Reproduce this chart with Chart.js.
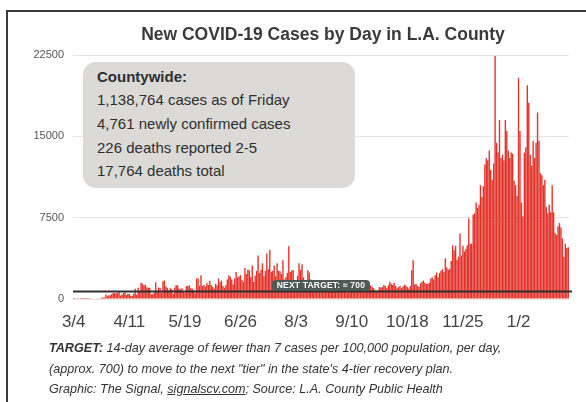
<!DOCTYPE html>
<html>
<head>
<meta charset="utf-8">
<script src="https://cdn.jsdelivr.net/npm/chart.js@4.4.1/dist/chart.umd.min.js"></script>
<style>
body{margin:0;background:#fff;font-family:"Liberation Sans",Arial,sans-serif;}
#wrap{position:relative;width:586px;height:402px;overflow:hidden;background:#fff;}
#frame{position:absolute;left:6px;top:10px;width:640px;height:460px;border-left:2px solid #3a3a3a;border-top:2px solid #3a3a3a;}
canvas{position:absolute;left:0;top:0;}
#title{position:absolute;left:0;width:646px;top:24px;text-align:center;font-weight:bold;font-size:17.5px;color:#3a3a3a;}
#box{position:absolute;left:83px;top:62px;width:258px;height:123.5px;padding:2.5px 0 0 14px;background:#dcdad7;border-radius:13px;color:#2e2e2e;font-size:15px;line-height:23.7px;}
#box b{font-weight:bold;}
#target{position:absolute;background:#4c5955;color:#fff;font-weight:bold;font-size:8.5px;height:11px;line-height:11px;padding:0 5px;border-radius:4px;white-space:nowrap;letter-spacing:0.2px;}
#caption{position:absolute;left:49px;top:338px;font-style:italic;font-size:12.6px;line-height:20.5px;color:#333;white-space:nowrap;}
#caption u{text-decoration:underline;}
</style>
</head>
<body>
<div id="wrap">
  <div id="frame"></div>
  <canvas id="chart" width="586" height="402"></canvas>
  <div id="title">New COVID-19 Cases by Day in L.A. County</div>
  <div id="box">
    <b>Countywide:</b><br>
    1,138,764 cases as of Friday<br>
    4,761 newly confirmed cases<br>
    226 deaths reported 2-5<br>
    17,764 deaths total
  </div>
  <div id="target">NEXT TARGET: ≈ 700</div>
  <div id="caption">
    <b>TARGET:</b> 14-day average of fewer than 7 cases per 100,000 population, per day,<br>
    (approx. 700) to move to the next "tier" in the state's 4-tier recovery plan.<br>
    Graphic: The Signal, <u>signalscv.com</u>; Source: L.A. County Public Health
  </div>
</div>
<script>
// daily new cases, one array per month (3/4/2020 .. 2/5/2021)
const mar=[4,1,0,1,0,3,2,7,5,8,13,16,25,50,46,40,61,62,59,128,128,138,421,257,339,342,464,548];
const apr=[534,521,534,711,323,420,550,620,361,475,475,300,297,494,950,399,1035,711,1491,1400,1259,1318,1081,1035,1035,440,433,597,1541,733];
const may=[1065,1012,563,1638,1708,1180,1012,815,1000,890,477,1050,1300,1250,960,900,1000,650,580,1180,1200,1270,1000,970,800,540,1900,1900,1230,2200,1200];
const jun=[1300,1150,1450,1300,1690,1300,1100,950,1400,1250,1900,1550,1700,1200,1050,1300,1800,2200,2050,1800,1350,1900,2500,2000,2100,2200,1750,1600,2850,2300];
const jul=[2700,2650,2000,3100,1600,2150,2600,4000,2400,2700,3300,2100,2600,4200,2750,4550,2500,2600,3100,2100,3300,2600,2550,2300,3570,1800,2000,2400,4860,2500,2650];
const aug=[2650,1600,1550,2150,3300,2700,3200,2000,1400,1700,2650,2450,1800,1500,1650,1100,1050,1300,1700,1600,1450,1250,1000,1200,1400,1300,1200,900,1100,1050,800];
const sep=[750,1000,1300,1050,950,800,600,750,1100,1200,1000,900,1050,700,950,1150,1200,1000,900,750,800,1100,1250,1100,1000,800,700,850,1100,1050];
const oct=[1100,1300,1200,1000,1250,1600,1400,1300,1500,1200,1000,1100,1200,1000,1150,1300,1250,1100,950,1200,2650,3570,1350,1400,1200,1100,1450,1600,1700,1500,1400];
const nov=[1400,1500,1900,2000,1800,2200,2450,2000,2400,2600,2750,2500,3750,2900,2700,2800,3500,4950,4500,4900,3600,3900,6050,4000,4900,4400,4600,4950,7450,5100];
const dec=[5100,7800,7900,8900,8400,8700,10500,9400,10400,12400,13000,12800,13700,11900,11000,12500,22400,14400,13500,16500,13000,13300,12800,16500,15500,13700,13000,13500,13400,10900,10500];
const jan=[9500,20400,15500,8900,7600,13500,14000,19700,18100,13300,12300,14600,13000,14400,17200,14600,11600,11400,10500,11000,8500,7900,8700,8000,10500,8000,6100,5900,6700,7000,6600];
const feb=[5600,3870,5100,4700,4761];

const cases=[...mar,...apr,...may,...jun,...jul,...aug,...sep,...oct,...nov,...dec,...jan,...feb];
const tickLabels=["3/4","4/11","5/19","6/26","8/3","9/10","10/18","11/25","1/2"];
const yTicks=[0,7500,15000,22500];
const target=700;

const days=[];
const d0=new Date(2020,2,4);
for(let i=0;i<cases.length;i++){
  const d=new Date(d0.getFullYear(),d0.getMonth(),d0.getDate()+i);
  days.push((d.getMonth()+1)+"/"+d.getDate());
}

const targetLine={
  id:"targetLine",
  afterDatasetsDraw(c){
    const y=c.scales.y.getPixelForValue(target);
    const ctx=c.ctx;
    ctx.save();
    ctx.strokeStyle="#2e2e2e";
    ctx.lineWidth=2;
    ctx.beginPath();
    ctx.moveTo(c.chartArea.left,y);
    ctx.lineTo(c.chartArea.right+3,y);
    ctx.stroke();
    ctx.restore();
    const lab=document.getElementById("target");
    lab.style.left=(c.scales.x.getPixelForValue(136)-1)+"px";
    lab.style.top=(y-11)+"px";
  }
};

new Chart(document.getElementById("chart"),{
  type:"bar",
  data:{labels:days,datasets:[{data:cases,backgroundColor:"#e2332b",borderWidth:0,categoryPercentage:1,barPercentage:0.95}]},
  options:{
    responsive:false,
    animation:false,
    devicePixelRatio:1,
    layout:{padding:{left:0,right:17,top:55,bottom:0}},
    plugins:{legend:{display:false},tooltip:{enabled:false}},
    scales:{
      x:{
        grid:{display:false,drawTicks:false},
        border:{display:false},
        afterFit(s){s.height=103;},
        ticks:{
          autoSkip:false,maxRotation:0,padding:13,
          color:"#444",font:{family:"Liberation Sans",size:17},
          callback(v){const l=this.getLabelForValue(v);return tickLabels.includes(l)?l:"";}
        }
      },
      y:{
        min:0,max:22500,
        afterBuildTicks(s){s.ticks=yTicks.map(v=>({value:v}));},
        afterFit(s){s.width=73;},
        grid:{color:"#e6e6e6",drawTicks:false},
        border:{display:false},
        ticks:{padding:9,color:"#555",font:{family:"Liberation Sans",size:11},callback:v=>String(v)}
      }
    }
  },
  plugins:[targetLine]
});
</script>
</body>
</html>
